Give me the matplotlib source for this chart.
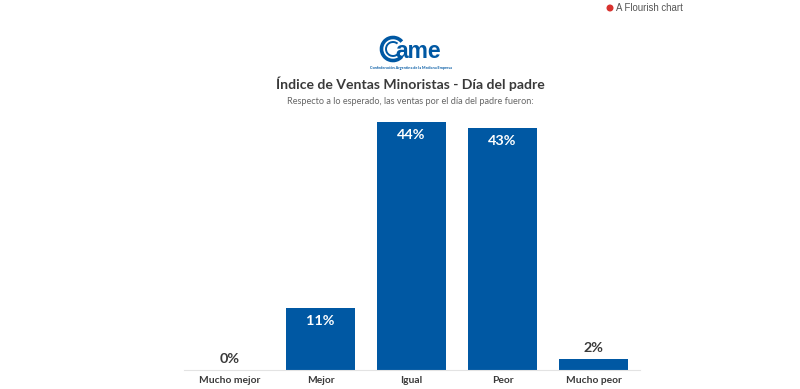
#!/usr/bin/env python3

import matplotlib
matplotlib.use('Agg')
import matplotlib.pyplot as plt
from matplotlib.patches import Arc, Circle

W, H = 800, 389

categories = ['Mucho mejor', 'Mejor', 'Igual', 'Peor', 'Mucho peor']
values = [0, 11, 44, 43, 2]
value_labels = ['0%', '11%', '44%', '43%', '2%']

title = 'Índice de Ventas Minoristas - Día del padre'
subtitle = 'Respecto a lo esperado, las ventas por el día del padre fueron:'
logo_sub = 'Confederación Argentina de la Mediana Empresa'
credit = 'A Flourish chart'

BLUE = '#0058a3'
DARK = '#3a3a3a'

plt.rcParams['font.family'] = ['Lato', 'DejaVu Sans']


def px_x(x):
    return x / W


def px_y(y):
    return 1 - y / H


fig = plt.figure(figsize=(W / 100, H / 100), dpi=100, facecolor='white')

# plot area, from pixel positions in the reference
ax = fig.add_axes([px_x(184), px_y(370), (640 - 184) / W, 248 / H])
ax.bar(range(len(values)), values, width=69 / 91, color=BLUE)
ax.set_xlim(-0.5, 4.51)
ax.set_ylim(0, 44)
ax.patch.set_alpha(0)
for side in ['top', 'right', 'left']:
    ax.spines[side].set_visible(False)
ax.spines['bottom'].set_color('#e3e3e3')
ax.spines['bottom'].set_linewidth(0.8)
ax.set_yticks([])
ax.set_xticks(range(len(categories)))
ax.set_xticklabels(categories, fontsize=7.4, fontweight='bold', color=DARK)
ax.tick_params(axis='x', length=0, pad=4.2)

# big bars carry the label inside, small ones above
for i, (v, lab) in enumerate(zip(values, value_labels)):
    if v >= 10:
        ax.annotate(lab, (i, v), xytext=(0, -5.3), textcoords='offset points',
                    ha='center', va='top', fontsize=10.4, fontweight='bold', color='white')
    else:
        ax.annotate(lab, (i, v), xytext=(0, 3.5), textcoords='offset points',
                    ha='center', va='bottom', fontsize=10.4, fontweight='bold', color=DARK)

fig.text(px_x(410), px_y(84), title, ha='center', va='center',
         fontsize=10.1, fontweight='bold', color=DARK)
fig.text(px_x(410), px_y(102), subtitle, ha='center', va='center',
         fontsize=6.6, color='#666666')

# logo, drawn in a pixel-space overlay
over = fig.add_axes([0, 0, 1, 1])
over.set_xlim(0, W)
over.set_ylim(H, 0)
over.axis('off')
over.patch.set_alpha(0)
over.add_patch(Arc((393, 49), 23, 23, theta1=40, theta2=320, color=BLUE, lw=2.6))
over.add_patch(Arc((393, 49), 14, 14, theta1=50, theta2=310, color=BLUE, lw=1.4))
over.text(418, 51, 'ame', ha='center', va='center', fontsize=16.5, fontweight='bold',
          color=BLUE, family=['Liberation Sans', 'DejaVu Sans'])
over.text(411, 68, logo_sub, ha='center', va='center', fontsize=2.7,
          fontweight='bold', color=BLUE)

# Flourish credit
over.add_patch(Circle((610, 8), 2.8, color='#d8322e'))
over.text(616.5, 8, credit, ha='left', va='center', fontsize=6.9, color='#555555',
          family=['Liberation Sans', 'DejaVu Sans'])

fig.savefig('out.png', dpi=100, facecolor='white')
